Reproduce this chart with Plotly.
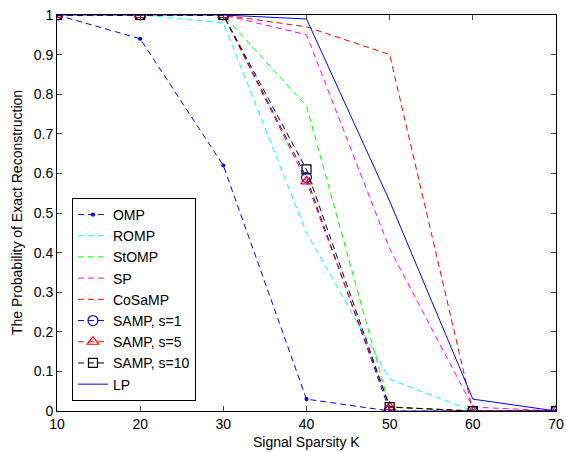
import plotly.graph_objects as go

K = [10, 20, 30, 40, 50, 60, 70]
omp = [1.0, 0.94, 0.62, 0.03, 0.0, 0.0, 0.0]
romp = [1.0, 1.0, 0.98, 0.45, 0.08, 0.0, 0.0]
stomp = [1.0, 1.0, 1.0, 0.77, 0.01, 0.0, 0.0]
sp = [1.0, 1.0, 1.0, 0.95, 0.41, 0.01, 0.0]
cosamp = [1.0, 1.0, 1.0, 0.97, 0.90, 0.0, 0.0]
samp1 = [1.0, 1.0, 1.0, 0.59, 0.0, 0.0, 0.0]
samp5 = [1.0, 1.0, 1.0, 0.58, 0.01, 0.0, 0.0]
samp10 = [1.0, 1.0, 1.0, 0.61, 0.01, 0.0, 0.0]
lp = [1.0, 1.0, 1.0, 0.99, 0.53, 0.03, 0.0]

ytick_vals = [0, 0.1, 0.2, 0.3, 0.4, 0.5, 0.6, 0.7, 0.8, 0.9, 1]
ytick_text = ["0", "0.1", "0.2", "0.3", "0.4", "0.5", "0.6", "0.7", "0.8", "0.9", "1"]

DASH = "6px,4px"
series = [
    ("OMP", omp, "rgb(0,0,255)", DASH, dict(symbol="circle", size=3)),
    ("ROMP", romp, "rgb(0,255,255)", DASH, None),
    ("StOMP", stomp, "rgb(0,255,0)", DASH, None),
    ("SP", sp, "rgb(255,0,255)", DASH, None),
    ("CoSaMP", cosamp, "rgb(255,0,0)", DASH, None),
    ("SAMP, s=1", samp1, "rgb(0,0,255)", DASH, dict(symbol="circle-open", size=10)),
    ("SAMP, s=5", samp5, "rgb(255,0,0)", DASH, dict(symbol="triangle-up-open", size=10)),
    ("SAMP, s=10", samp10, "rgb(0,0,0)", DASH, dict(symbol="square-open", size=9)),
    ("LP", lp, "rgb(0,0,255)", "solid", None),
]

fig = go.Figure()
for name, vals, color, dash, marker in series:
    if marker is None:
        fig.add_trace(go.Scatter(x=K, y=vals, name=name, mode="lines",
                                 line=dict(color=color, width=1, dash=dash)))
    else:
        fig.add_trace(go.Scatter(x=K, y=vals, name=name, mode="lines+markers",
                                 line=dict(color=color, width=1, dash=dash),
                                 marker=dict(color=color, line=dict(color=color, width=1.2), **marker)))

fig.update_layout(
    width=566, height=452,
    margin=dict(l=57, r=10, t=15, b=41),
    paper_bgcolor="white", plot_bgcolor="white",
    font=dict(family="Liberation Sans, Arial, sans-serif", size=14, color="black"),
    showlegend=True,
    legend=dict(x=0.03, y=0.538, xanchor="left", yanchor="top",
                bgcolor="white", bordercolor="black", borderwidth=1,
                font=dict(size=14), tracegroupgap=0, itemwidth=30),
    xaxis=dict(range=[10, 70], tickvals=K, ticks="inside", ticklen=5,
               showline=True, linecolor="black", linewidth=1, mirror="ticks",
               showgrid=False, zeroline=False, automargin=False,
               tickfont=dict(size=14)),
    yaxis=dict(range=[0, 1], tickvals=ytick_vals, ticktext=ytick_text, ticks="inside", ticklen=5,
               showline=True, linecolor="black", linewidth=1, mirror="ticks",
               showgrid=False, zeroline=False, automargin=False,
               tickfont=dict(size=14)),
    annotations=[
        dict(text="Signal Sparsity K", xref="paper", yref="paper", x=0.5, y=0,
             xanchor="center", yanchor="top", yshift=-21, showarrow=False,
             font=dict(size=14)),
        dict(text="The Probability of Exact Reconstruction", xref="paper", yref="paper",
             x=0, y=0.5, xanchor="center", yanchor="middle", xshift=-40, textangle=-90,
             showarrow=False, font=dict(size=14)),
    ],
)

fig.write_html("out.html", config={"displayModeBar": False},
               post_script="document.body.style.margin='0';")
